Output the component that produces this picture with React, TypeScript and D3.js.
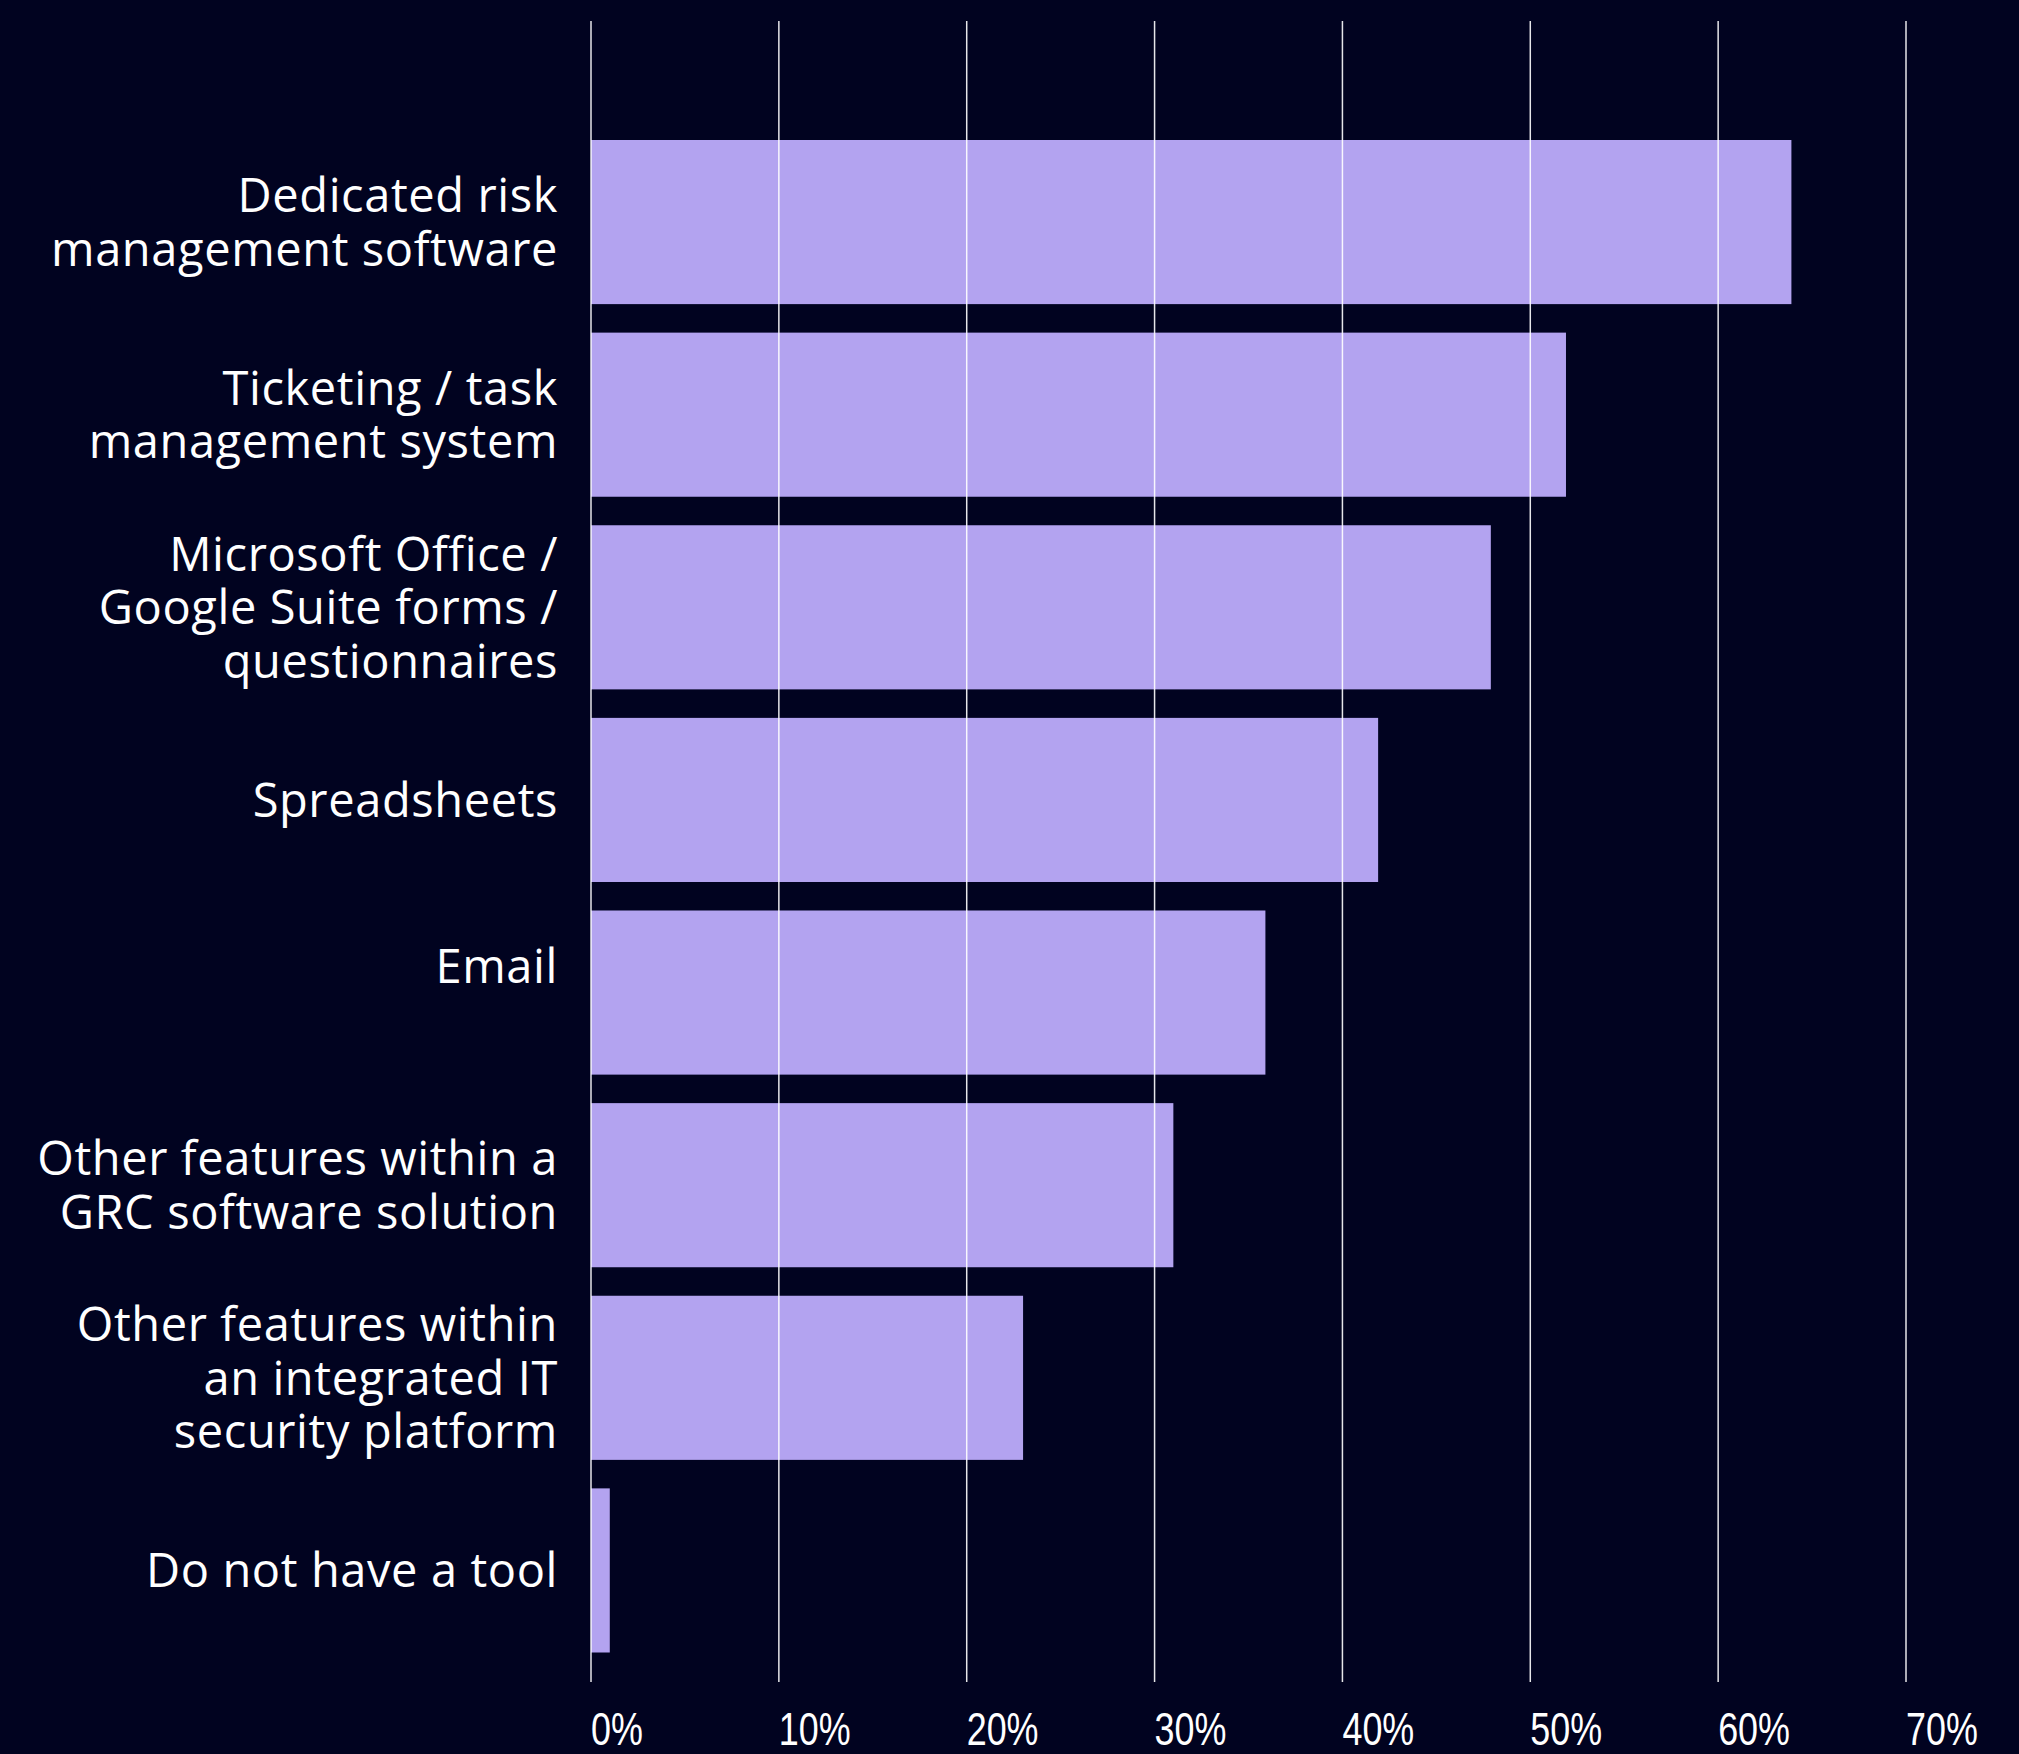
import React from "react";
import * as d3 from "d3";

const categories: string[][] = [
  ["Dedicated risk", "management software"],
  ["Ticketing / task", "management system"],
  ["Microsoft Office /", "Google Suite forms /", "questionnaires"],
  ["Spreadsheets"],
  ["Email", ""],
  ["Other features within a", "GRC software solution"],
  ["Other features within", "an integrated IT", "security platform"],
  ["Do not have a tool"],
];
const values: number[] = [63.9, 51.9, 47.9, 41.9, 35.9, 31.0, 23.0, 1.0];
const tickValues: number[] = [0, 10, 20, 30, 40, 50, 60, 70];
const tickLabels: string[] = ["0%", "10%", "20%", "30%", "40%", "50%", "60%", "70%"];

const W = 2019;
const H = 1754;
const BG = "#010320";
const BAR = "#b3a3f0";
const LABEL_FONT = "'Open Sans', 'Noto Sans', sans-serif";
const TICK_FONT = "'Liberation Sans', Arial, sans-serif";

export default function App() {
  const keys = categories.map((c) => c.join(" "));
  const x = d3.scaleLinear().domain([0, 70]).range([591, 1906]);
  const y = d3
    .scaleBand<string>()
    .domain(keys)
    .range([140, 1652.5])
    .paddingInner(0.148)
    .paddingOuter(0);

  const labelSize = 47;
  const lineH = 53.5;
  const capHalf = labelSize * 0.357;

  return (
    <svg
      width={W}
      height={H}
      style={{ position: "fixed", left: 0, top: 0, display: "block", background: BG }}
    >
      <rect x={0} y={0} width={W} height={H} fill={BG} />
      <g>
        {values.map((v, i) => (
          <rect
            key={keys[i]}
            x={x(0)}
            y={y(keys[i])}
            width={x(v) - x(0)}
            height={y.bandwidth()}
            fill={BAR}
          />
        ))}
      </g>
      <g>
        {tickValues.map((t) => (
          <line
            key={t}
            x1={x(t)}
            x2={x(t)}
            y1={21}
            y2={1682}
            stroke="#ffffff"
            strokeOpacity={0.9}
            strokeWidth={1.5}
          />
        ))}
      </g>
      <g>
        {tickValues.map((t, i) => (
          <text
            key={t}
            transform={`translate(${x(t)},1745) scale(0.78,1)`}
            fill="#ffffff"
            fontFamily={TICK_FONT}
            fontSize={46}
            textAnchor="start"
          >
            {tickLabels[i]}
          </text>
        ))}
      </g>
      <g>
        {categories.map((lines, i) => {
          const cy = (y(keys[i]) as number) + y.bandwidth() / 2;
          const n = lines.length;
          return (
            <text
              key={keys[i]}
              fill="#ffffff"
              fontFamily={LABEL_FONT}
              fontSize={labelSize}
              letterSpacing={0.6}
              textAnchor="end"
            >
              {lines.map((ln, j) => (
                <tspan key={j} x={558} y={cy + capHalf + (j - (n - 1) / 2) * lineH}>
                  {ln}
                </tspan>
              ))}
            </text>
          );
        })}
      </g>
    </svg>
  );
}
